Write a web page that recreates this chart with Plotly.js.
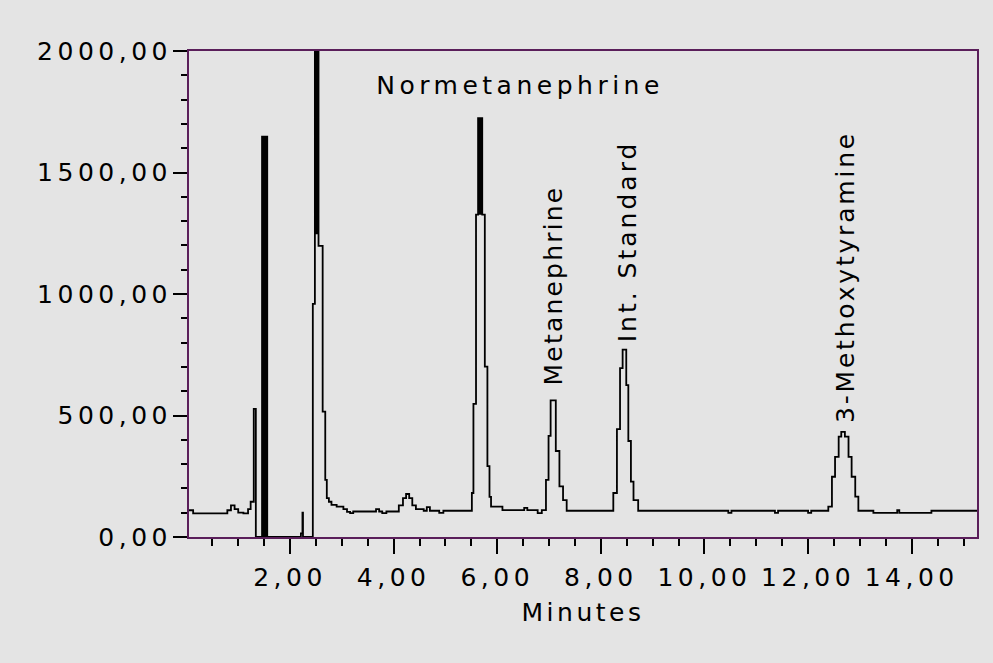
<!DOCTYPE html>
<html>
<head>
<meta charset="utf-8">
<script src="https://cdn.plot.ly/plotly-3.0.1.min.js"></script>
<style>
  html, body { margin: 0; padding: 0; background: #e4e4e4; }
  #chart { width: 993px; height: 663px; }
  .xtick text, .ytick text { letter-spacing: 4.5px; }
  .g-xtitle text { letter-spacing: 3.5px; }
</style>
</head>
<body>
<div id="chart"></div>
<script>
// Retention time (minutes) and detector signal
const timeMin = [
  0.05, 0.13, 0.79, 0.86, 0.93, 1.00, 1.10, 1.19, 1.24, 1.30,
  1.34, 1.46, 1.48, 1.49, 1.51, 1.52, 1.54, 1.55, 1.56, 2.21,
  2.24, 2.25, 2.44, 2.48, 2.49, 2.50, 2.51, 2.52, 2.53, 2.54,
  2.55, 2.63, 2.68, 2.71, 2.75, 2.80, 2.90, 3.03, 3.10, 3.16,
  3.22, 3.66, 3.72, 3.78, 3.86, 4.10, 4.18, 4.24, 4.30, 4.36,
  4.43, 4.58, 4.64, 4.70, 4.88, 4.96, 5.51, 5.54, 5.59, 5.63,
  5.65, 5.66, 5.68, 5.69, 5.71, 5.76, 5.81, 5.85, 5.88, 6.10,
  6.52, 6.58, 6.78, 6.86, 6.94, 6.99, 7.03, 7.13, 7.20, 7.27,
  7.34, 8.24, 8.31, 8.37, 8.42, 8.49, 8.53, 8.58, 8.63, 8.72,
  10.46, 10.52, 11.36, 11.42, 12.00, 12.06, 12.39, 12.46, 12.52, 12.59,
  12.64, 12.71, 12.78, 12.84, 12.91, 12.97, 13.26, 13.72, 13.76, 14.38,
  15.26
];
const signal = [
  110, 97, 110, 130, 115, 100, 97, 115, 145, 527,
  0, 1648, 0, 1648, 0, 1648, 0, 1648, 0, 15,
  100, 0, 959, 2000, 1250, 2000, 1250, 2000, 1250, 2000,
  1198, 516, 235, 160, 145, 132, 125, 115, 103, 98,
  105, 115, 105, 98, 105, 130, 160, 177, 160, 130,
  115, 108, 123, 108, 99, 108, 181, 548, 1327, 1724,
  1330, 1724, 1330, 1724, 1327, 701, 292, 165, 125, 111,
  120, 111, 98, 111, 235, 416, 562, 354, 208, 152,
  108, 181, 444, 695, 771, 625, 395, 228, 152, 108,
  99, 108, 99, 108, 99, 108, 125, 248, 330, 413,
  433, 413, 330, 248, 166, 108, 99, 110, 99, 108,
  108
];

// Peak labels
const peakNames = ['Normetanephrine', 'Metanephrine', 'Int. Standard', '3-Methoxytyramine'];

// Tick labels
const xTickVals = [2, 4, 6, 8, 10, 12, 14];
const xTickText = ['2,00', '4,00', '6,00', '8,00', '10,00', '12,00', '14,00'];
const yTickVals = [0, 500, 1000, 1500, 2000];
const yTickText = ['0,00', '500,00', '1000,00', '1500,00', '2000,00'];

const FONT = 'DejaVu Sans, Verdana, sans-serif';
const BORDER = '#5a1e5a';
const BG = '#e4e4e4';

const trace = {
  x: timeMin,
  y: signal,
  type: 'scatter',
  mode: 'lines',
  line: { color: '#000000', width: 1.8, shape: 'hv' },
  hoverinfo: 'skip',
  showlegend: false
};

const annFont = { family: FONT, size: 25, color: '#000000' };
const layout = {
  width: 993,
  height: 663,
  paper_bgcolor: BG,
  plot_bgcolor: BG,
  margin: { l: 189, r: 16, t: 51, b: 126, pad: 0 },
  showlegend: false,
  font: { family: FONT, size: 25, color: '#000000' },
  xaxis: {
    range: [0.05, 15.26],
    tickmode: 'array',
    tickvals: xTickVals,
    ticktext: xTickText,
    ticks: 'outside',
    ticklen: 15,
    tickwidth: 2,
    tickcolor: '#000000',
    ticklabelstandoff: 2,
    minor: { tickmode: 'linear', tick0: 0, dtick: 0.5, ticks: 'outside', ticklen: 7, tickwidth: 2, tickcolor: '#000000', showgrid: false },
    showgrid: false,
    zeroline: false,
    showline: true,
    mirror: true,
    linecolor: BORDER,
    linewidth: 2,
    tickfont: { family: FONT, size: 25, color: '#000000' },
    title: { text: 'Minutes', font: { family: FONT, size: 25, color: '#000000' }, standoff: 12 },
    fixedrange: true
  },
  yaxis: {
    range: [0, 2000],
    tickmode: 'array',
    tickvals: yTickVals,
    ticktext: yTickText,
    ticks: 'outside',
    ticklen: 14,
    tickwidth: 2,
    tickcolor: '#000000',
    ticklabelstandoff: -4,
    minor: { tickmode: 'linear', tick0: 0, dtick: 100, ticks: 'outside', ticklen: 6, tickwidth: 2, tickcolor: '#000000', showgrid: false },
    showgrid: false,
    zeroline: false,
    showline: true,
    mirror: true,
    linecolor: BORDER,
    linewidth: 2,
    tickfont: { family: FONT, size: 25, color: '#000000' },
    fixedrange: true
  },
  annotations: [
    { text: peakNames[0], x: 6.44, y: 1856, xref: 'x', yref: 'y', showarrow: false, xanchor: 'center', yanchor: 'middle', font: annFont },
    { text: peakNames[1], x: 7.10, y: 1033, xref: 'x', yref: 'y', showarrow: false, textangle: -90, xanchor: 'center', yanchor: 'middle', font: annFont },
    { text: peakNames[2], x: 8.51, y: 1216, xref: 'x', yref: 'y', showarrow: false, textangle: -90, xanchor: 'center', yanchor: 'middle', font: annFont },
    { text: peakNames[3], x: 12.72, y: 1071, xref: 'x', yref: 'y', showarrow: false, textangle: -90, xanchor: 'center', yanchor: 'middle', font: annFont }
  ]
};

const annSpacing = ['4.5px', '2.2px', '3px', '2.8px'];

Plotly.newPlot('chart', [trace], layout, { displayModeBar: false, staticPlot: true }).then(function (gd) {
  const texts = gd.querySelectorAll('.annotation-text');
  texts.forEach(function (t, i) { t.style.letterSpacing = annSpacing[i] || '0px'; });
});
</script>
</body>
</html>
